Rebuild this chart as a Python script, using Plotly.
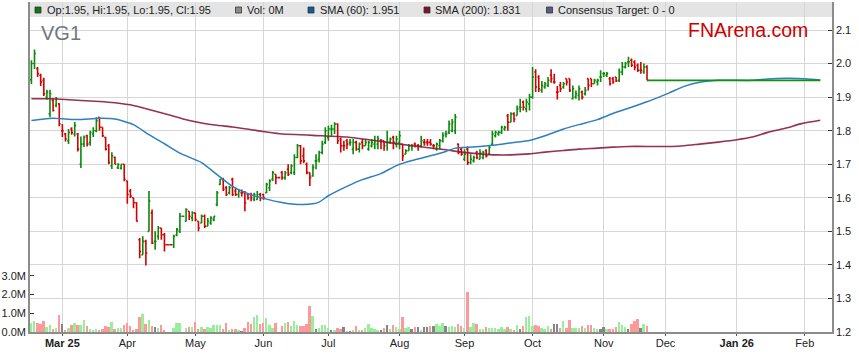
import pandas as pd
import plotly.graph_objects as go

# ---------------- data ----------------
# trading weekdays 17 Feb 2025 .. 21 Nov 2025 (holidays kept as flat bars)
first_day, last_day = "2025-02-17", "2025-11-21"

open_ = [
    1.952, 2.0, 1.985, 1.965, 1.95,   1.90, 1.85, 1.89, 1.875, 1.88,
    1.80, 1.79, 1.77, 1.805, 1.79,    1.79, 1.70, 1.76, 1.785, 1.765,
    1.79, 1.80, 1.84, 1.81, 1.78,     1.755, 1.695, 1.72, 1.69, 1.688,
    1.70, 1.65, 1.62, 1.60, 1.585,    1.475, 1.43, 1.47, 1.50, 1.555,
    1.47, 1.485, 1.51, 1.49, 1.46,    1.46, 1.46, 1.49, 1.50, 1.545,
    1.53, 1.56, 1.54, 1.555, 1.53,    1.525, 1.545, 1.515, 1.525, 1.535,
    1.58, 1.64, 1.655, 1.63, 1.615,   1.655, 1.62, 1.61, 1.615, 1.615,
    1.61, 1.61, 1.595, 1.595, 1.61,   1.61, 1.615, 1.63, 1.655, 1.67,
    1.66, 1.675, 1.66, 1.685, 1.675,  1.675, 1.72, 1.755, 1.725, 1.70,
    1.675, 1.665, 1.71, 1.715, 1.735, 1.765, 1.78, 1.805, 1.805, 1.82,
    1.775, 1.755, 1.77, 1.765, 1.745, 1.765, 1.745, 1.765, 1.755, 1.745,
    1.755, 1.76, 1.76, 1.77, 1.77,    1.765, 1.765, 1.78, 1.76, 1.765,
    1.76, 1.73, 1.74, 1.755, 1.76,    1.755, 1.755, 1.765, 1.765, 1.765,
    1.755, 1.745, 1.755, 1.77, 1.79,  1.795, 1.80, 1.80, 1.76, 1.745,
    1.715, 1.745, 1.705, 1.71, 1.735, 1.715, 1.72, 1.74, 1.73, 1.76,
    1.785, 1.79, 1.795, 1.805, 1.845, 1.825, 1.85, 1.845, 1.87, 1.885,
    1.865, 1.88, 1.90, 1.975, 1.96,   1.92, 1.93, 1.935, 1.965, 1.945,
    1.915, 1.935, 1.93, 1.955, 1.955, 1.895, 1.90, 1.905, 1.915, 1.91,
    1.955, 1.955, 1.94, 1.945, 1.96,  1.97, 1.965, 1.955, 1.955, 1.96,
    1.95, 1.975, 1.99, 2.005, 2.01,   2.005, 1.995, 1.98, 1.975, 1.99,
]
high = [
    2.01, 2.042, 1.99, 1.97, 1.958,   1.922, 1.922, 1.897, 1.90, 1.882,
    1.82, 1.793, 1.805, 1.81, 1.826,  1.793, 1.783, 1.786, 1.788, 1.80,
    1.81, 1.84, 1.84, 1.81, 1.781,    1.76, 1.736, 1.723, 1.703, 1.70,
    1.70, 1.651, 1.626, 1.60, 1.587,  1.48, 1.485, 1.475, 1.62, 1.565,
    1.50, 1.516, 1.51, 1.495, 1.46,   1.46, 1.49, 1.51, 1.555, 1.545,
    1.569, 1.56, 1.56, 1.555, 1.53,   1.55, 1.55, 1.54, 1.545, 1.545,
    1.62, 1.656, 1.66, 1.635, 1.635,  1.66, 1.63, 1.625, 1.625, 1.62,
    1.614, 1.615, 1.615, 1.62, 1.614, 1.612, 1.645, 1.655, 1.68, 1.67,
    1.66, 1.68, 1.68, 1.70, 1.70,     1.73, 1.76, 1.757, 1.75, 1.705,
    1.675, 1.70, 1.73, 1.74, 1.77,    1.81, 1.815, 1.818, 1.825, 1.822,
    1.78, 1.77, 1.775, 1.775, 1.775,  1.77, 1.765, 1.775, 1.775, 1.77,
    1.775, 1.785, 1.785, 1.775, 1.77, 1.80, 1.78, 1.785, 1.785, 1.80,
    1.76, 1.745, 1.76, 1.76, 1.765,   1.76, 1.785, 1.775, 1.775, 1.775,
    1.76, 1.765, 1.775, 1.795, 1.80,  1.83, 1.835, 1.85, 1.762, 1.75,
    1.745, 1.753, 1.73, 1.725, 1.74,  1.745, 1.74, 1.745, 1.755, 1.80,
    1.80, 1.80, 1.815, 1.815, 1.85,   1.855, 1.855, 1.875, 1.895, 1.89,
    1.895, 1.91, 1.99, 1.983, 1.965,  1.948, 1.945, 1.96, 1.983, 1.97,
    1.933, 1.945, 1.945, 1.955, 1.955, 1.935, 1.92, 1.935, 1.92, 1.93,
    1.955, 1.955, 1.955, 1.955, 1.98, 1.975, 1.975, 1.96, 1.96, 1.96,
    1.985, 2.005, 2.005, 2.02, 2.015, 2.01, 2.0, 2.005, 2.0, 1.995,
]
low = [
    1.939, 1.984, 1.96, 1.933, 1.903, 1.892, 1.84, 1.857, 1.87, 1.813,
    1.781, 1.768, 1.76, 1.788, 1.783, 1.738, 1.689, 1.751, 1.753, 1.755,
    1.781, 1.795, 1.80, 1.781, 1.741, 1.70, 1.686, 1.70, 1.686, 1.684,
    1.649, 1.582, 1.599, 1.569, 1.529, 1.42, 1.43, 1.398, 1.50, 1.462,
    1.445, 1.475, 1.475, 1.44, 1.46,  1.46, 1.45, 1.485, 1.495, 1.545,
    1.529, 1.534, 1.53, 1.53, 1.50,   1.524, 1.51, 1.515, 1.52, 1.53,
    1.575, 1.638, 1.62, 1.605, 1.61,  1.605, 1.605, 1.60, 1.604, 1.56,
    1.594, 1.59, 1.59, 1.594, 1.59,   1.594, 1.614, 1.62, 1.65, 1.64,
    1.66, 1.654, 1.654, 1.665, 1.67,  1.668, 1.718, 1.70, 1.703, 1.67,
    1.635, 1.663, 1.685, 1.705, 1.73, 1.76, 1.77, 1.785, 1.79, 1.76,
    1.735, 1.74, 1.745, 1.755, 1.73,  1.74, 1.735, 1.745, 1.755, 1.74,
    1.75, 1.745, 1.745, 1.745, 1.74,  1.74, 1.76, 1.745, 1.75, 1.745,
    1.71, 1.73, 1.74, 1.74, 1.75,     1.74, 1.75, 1.755, 1.755, 1.755,
    1.745, 1.74, 1.745, 1.765, 1.78,  1.79, 1.795, 1.79, 1.73, 1.725,
    1.71, 1.698, 1.70, 1.705, 1.715,  1.715, 1.715, 1.72, 1.73, 1.755,
    1.78, 1.785, 1.79, 1.80, 1.80,    1.825, 1.825, 1.845, 1.855, 1.86,
    1.855, 1.86, 1.895, 1.915, 1.915, 1.913, 1.925, 1.93, 1.943, 1.94,
    1.893, 1.915, 1.925, 1.935, 1.915, 1.893, 1.895, 1.89, 1.893, 1.905,
    1.92, 1.93, 1.94, 1.935, 1.945,   1.96, 1.96, 1.935, 1.94, 1.945,
    1.945, 1.965, 1.985, 1.99, 1.99,  1.98, 1.975, 1.97, 1.97, 1.95,
]
close = [
    2.0, 2.03, 1.97, 1.945, 1.91,     1.915, 1.91, 1.86, 1.895, 1.82,
    1.80, 1.775, 1.795, 1.795, 1.815, 1.745, 1.76, 1.78, 1.76, 1.795,
    1.80, 1.83, 1.81, 1.785, 1.745,   1.705, 1.725, 1.70, 1.70, 1.70,
    1.655, 1.61, 1.605, 1.585, 1.53,  1.44, 1.47, 1.435, 1.59, 1.465,
    1.47, 1.51, 1.49, 1.46, 1.46,     1.46, 1.485, 1.505, 1.545, 1.545,
    1.565, 1.545, 1.555, 1.535, 1.51, 1.545, 1.515, 1.53, 1.54, 1.545,
    1.615, 1.655, 1.625, 1.61, 1.63,  1.61, 1.61, 1.62, 1.615, 1.585,
    1.60, 1.60, 1.61, 1.61, 1.60,     1.60, 1.64, 1.65, 1.675, 1.66,
    1.66, 1.66, 1.675, 1.67, 1.695,   1.72, 1.755, 1.71, 1.71, 1.675,
    1.66, 1.69, 1.71, 1.735, 1.76,    1.80, 1.805, 1.805, 1.82, 1.77,
    1.755, 1.755, 1.76, 1.765, 1.765, 1.745, 1.76, 1.755, 1.765, 1.765,
    1.765, 1.77, 1.775, 1.77, 1.755,  1.765, 1.775, 1.765, 1.775, 1.785,
    1.725, 1.74, 1.755, 1.755, 1.755, 1.755, 1.77, 1.765, 1.765, 1.76,
    1.755, 1.76, 1.77, 1.785, 1.79,   1.82, 1.825, 1.84, 1.735, 1.73,
    1.73, 1.705, 1.715, 1.72, 1.72,   1.735, 1.735, 1.725, 1.75, 1.79,
    1.795, 1.795, 1.81, 1.81, 1.825,  1.85, 1.835, 1.865, 1.87, 1.87,
    1.885, 1.90, 1.96, 1.93, 1.925,   1.935, 1.94, 1.95, 1.955, 1.945,
    1.915, 1.925, 1.94, 1.945, 1.92,  1.925, 1.91, 1.925, 1.90, 1.92,
    1.935, 1.94, 1.95, 1.95, 1.96,    1.97, 1.97, 1.94, 1.945, 1.948,
    1.975, 1.99, 2.0, 2.005, 1.995,   1.99, 1.98, 1.98, 1.99, 1.95,
]
volume_m = [
    .46, .59, .50, .45, .59,  .27, .38, .18, .21, .91,
    .43, .11, .21, .38, .48,  .38, .38, .64, .32, .16,
    .13, .16, .11, .16, .32,  .29, .54, .16, .23, .23,
    .38, .46, .32, .07, .18,  .80, .96, .41, .64, .32,
    .29, .21, .38, .13, 0,    0, .21, .50, .50, 0,
    .21, .27, .29, .54, .16,  .29, .16, .27, .21, .36,
    .39, .38, .16, .46, .13,  .18, .16, .09, .05, .23,
    .55, .41, .82, .93, .41,  .50, .77, .38, .23, .50,
    0, .34, .50, .55, .34,    .59, .39, .30, .30, .43,
    1.39, .87, .18, .23, .38, .38, .23, .07, .13, .21,
    .16, .27, .05, .05, .11,  .34, .13, .13, .21, .43,
    .20, .14, .07, .11, .21,  .38, .16, .38, .29, .16,
    .80, .21, .27, .16, .27,  .27, .07, .29, .29, .32,
    .32, .43, .34, .48, .30,  .29, .32, .27, .41, .32,
    .21, 2.15, .25, .50, .43, .16, .16, .27, .21, .21,
    .21, .16, .25, .16, .27,  .16, .09, .36, .16, .32,
    .80, .86, .32, .38, .32,  .21, .16, .32, .16, .43,
    .43, .21, .59, .21, .64,  .21, .21, .21, .32, .21,
    .38, .36, .21, .16, .16,  .25, .16, .16, .16, .27,
    .54, .36, .29, .16, .43,  .59, .70, .21, .43, .32,
]

# consensus / flat projection after the last bar
proj_dates = ["2025-11-21", "2026-02-09"]
proj_price = [1.95, 1.95]

sma60_dates = [
    "2025-02-17", "2025-02-21", "2025-02-26", "2025-03-04", "2025-03-10", "2025-03-19",
    "2025-03-26", "2025-04-03", "2025-04-10", "2025-04-17", "2025-04-24", "2025-05-05",
    "2025-05-12", "2025-05-19", "2025-05-27", "2025-06-03", "2025-06-10", "2025-06-16",
    "2025-06-24", "2025-06-26", "2025-07-01", "2025-07-09", "2025-07-16", "2025-07-24",
    "2025-07-31", "2025-08-07", "2025-08-15", "2025-08-22", "2025-08-27", "2025-09-01",
    "2025-09-08", "2025-09-15", "2025-09-23", "2025-09-30", "2025-10-08", "2025-10-15",
    "2025-10-22", "2025-10-30", "2025-11-06", "2025-11-14", "2025-11-21", "2025-12-02",
    "2025-12-09", "2025-12-16", "2025-12-24", "2026-01-08", "2026-01-15", "2026-01-23",
    "2026-02-02", "2026-02-09",
]
sma60_vals = [
    1.830, 1.835, 1.837, 1.835, 1.833, 1.837,
    1.835, 1.818, 1.788, 1.761, 1.733, 1.705,
    1.669, 1.634, 1.609, 1.596, 1.586, 1.581,
    1.582, 1.587, 1.606, 1.634, 1.654, 1.672,
    1.696, 1.711, 1.725, 1.738, 1.748, 1.750,
    1.753, 1.757, 1.765, 1.771, 1.788, 1.805,
    1.818, 1.833, 1.851, 1.870, 1.886, 1.912,
    1.932, 1.944, 1.950, 1.950, 1.954, 1.956,
    1.955, 1.951,
]
sma200_dates = [
    "2025-02-17", "2025-02-25", "2025-03-04", "2025-03-11", "2025-03-19", "2025-03-26",
    "2025-04-03", "2025-04-10", "2025-04-18", "2025-04-25", "2025-05-05", "2025-05-12",
    "2025-05-19", "2025-05-27", "2025-06-03", "2025-06-10", "2025-06-18", "2025-06-24",
    "2025-07-09", "2025-07-24", "2025-08-07", "2025-08-22", "2025-08-29", "2025-09-08",
    "2025-09-15", "2025-09-22", "2025-09-30", "2025-10-07", "2025-10-15", "2025-10-22",
    "2025-10-30", "2025-11-06", "2025-11-13", "2025-11-25", "2025-12-03", "2025-12-09",
    "2025-12-16", "2025-12-24", "2026-01-01", "2026-01-08", "2026-01-15", "2026-01-23",
    "2026-01-30", "2026-02-09",
]
sma200_vals = [
    1.895, 1.895, 1.893, 1.890, 1.887, 1.883,
    1.875, 1.863, 1.848, 1.835, 1.823, 1.816,
    1.811, 1.803, 1.796, 1.790, 1.788, 1.786,
    1.781, 1.768, 1.755, 1.743, 1.736, 1.731,
    1.728, 1.728, 1.731, 1.736, 1.741, 1.745,
    1.748, 1.751, 1.753, 1.753, 1.753, 1.755,
    1.760, 1.766, 1.773, 1.781, 1.795, 1.808,
    1.821, 1.831,
]

month_starts = ["2025-03", "2025-04", "2025-05", "2025-06", "2025-07", "2025-08",
                "2025-09", "2025-10", "2025-11", "2025-12", "2026-01", "2026-02"]
month_labels = ["Mar 25", "Apr", "May", "Jun", "Jul", "Aug",
                "Sep", "Oct", "Nov", "Dec", "Jan 26", "Feb"]

price_ticks = [1.2, 1.3, 1.4, 1.5, 1.6, 1.7, 1.8, 1.9, 2.0, 2.1]
volume_ticks = [0, 1, 2, 3]

legend_items = [
    ("Op:1.95, Hi:1.95, Lo:1.95, Cl:1.95", "#0a7a0a"),
    ("Vol: 0M", "#8a8a8a"),
    ("SMA (60): 1.951", "#0b5c9e"),
    ("SMA (200): 1.831", "#7d1230"),
    ("Consensus Target: 0 - 0", "#5a5a88"),
]

# ---------------- figure ----------------
W, H = 859, 363
PL, PR, PT, PB = 30, 832, 2, 332
FONT = "Liberation Sans, Arial, sans-serif"


def fx(x):
    return (x - PL) / (PR - PL)


def fy(y):
    return (PB - y) / (PB - PT)


dates = pd.bdate_range(first_day, last_day)
vol_colors = ["#99ee99" if c > o else "#ff9999" if c < o else "#858585"
              for o, c in zip(open_, close)]
tickvals = [pd.offsets.BDay().rollforward(pd.Timestamp(m + "-01")) for m in month_starts]
ticktext = [f"<b>{t}</b>" if " " in t else t for t in month_labels]

fig = go.Figure()
fig.add_trace(go.Bar(x=dates, y=volume_m, yaxis="y2", width=0.62 * 86400000,
                     marker=dict(color=vol_colors, line_width=0), showlegend=False))
fig.add_trace(go.Scatter(x=sma200_dates, y=sma200_vals, mode="lines",
                         line=dict(color="#8c1b42", width=1.6, shape="spline", smoothing=0.6),
                         opacity=0.9, showlegend=False))
fig.add_trace(go.Scatter(x=sma60_dates, y=sma60_vals, mode="lines",
                         line=dict(color="#2c7fc0", width=1.5, shape="spline", smoothing=0.6),
                         showlegend=False))
fig.add_trace(go.Scatter(x=proj_dates, y=proj_price, mode="lines",
                         line=dict(color="#119111", width=1.6), showlegend=False))
fig.add_trace(go.Ohlc(x=dates, open=open_, high=high, low=low, close=close,
                      increasing=dict(line=dict(color="#0a8a0a", width=1.6)),
                      decreasing=dict(line=dict(color="#d40000", width=1.6)),
                      tickwidth=0.45, showlegend=False))

shapes = [dict(type="rect", xref="paper", yref="paper", x0=0, x1=1, y0=fy(17), y1=1,
               fillcolor="#e4e4e4", line_width=0, layer="below")]
annotations = []
item_x = [35, 235.5, 308, 424, 546.5]
for (label, col), x0 in zip(legend_items, item_x):
    shapes.append(dict(type="rect", xref="paper", yref="paper",
                       x0=fx(x0), x1=fx(x0 + 6), y0=fy(13), y1=fy(7),
                       fillcolor=col, line=dict(color="#333333", width=0.8)))
    annotations.append(dict(xref="paper", yref="paper", x=fx(x0 + 9.5), y=fy(10),
                            xanchor="left", yanchor="middle", showarrow=False,
                            text=label, font=dict(family=FONT, size=11, color="#222222")))
annotations.append(dict(xref="paper", yref="paper", x=fx(39), y=fy(32.5),
                        xanchor="left", yanchor="middle", showarrow=False, text="VG1",
                        font=dict(family=FONT, size=20, color="#6f7780")))
annotations.append(dict(xref="paper", yref="paper", x=fx(810), y=fy(30.5),
                        xanchor="right", yanchor="middle", showarrow=False, text="FNArena.com",
                        font=dict(family=FONT, size=19.5, color="#cc0000")))

fig.update_layout(
    width=W, height=H,
    margin=dict(l=PL, r=W - PR, t=PT, b=H - PB, pad=0),
    paper_bgcolor="white", plot_bgcolor="rgba(0,0,0,0)",
    showlegend=False, bargap=0,
    shapes=shapes, annotations=annotations,
    xaxis=dict(
        type="date", rangebreaks=[dict(bounds=["sat", "mon"])],
        range=["2025-02-14 13:00", "2026-02-12 19:00"],
        tickvals=tickvals, ticktext=ticktext,
        showgrid=True, gridcolor="#d6d6d6", gridwidth=1,
        showline=True, linecolor="#8c8c8c", linewidth=1.5,
        ticks="outside", ticklen=2, tickcolor="#555", ticklabelstandoff=-2,
        tickfont=dict(family=FONT, size=11, color="#222"),
        rangeslider=dict(visible=False), zeroline=False,
    ),
    yaxis=dict(
        side="right", range=[1.2, 2.1835], tickvals=price_ticks,
        ticktext=[f"{v:.1f}" for v in price_ticks],
        showgrid=True, gridcolor="#d6d6d6", gridwidth=1,
        showline=True, linecolor="#8c8c8c", linewidth=1.5,
        ticks="inside", ticklen=4, tickcolor="#333",
        tickfont=dict(family=FONT, size=11, color="#222"), zeroline=False,
    ),
    yaxis2=dict(
        overlaying="y", side="left", range=[0, 17.65], tickvals=volume_ticks,
        ticktext=[f"{v:.1f}M" for v in volume_ticks],
        showgrid=False, showline=True, linecolor="#8c8c8c", linewidth=1.5,
        ticks="inside", ticklen=4, tickcolor="#333",
        tickfont=dict(family=FONT, size=11, color="#222"), zeroline=False,
    ),
)

fig.write_html("out.html", config={"displayModeBar": False},
               post_script="document.body.style.margin='0';document.body.style.overflow='hidden';")
